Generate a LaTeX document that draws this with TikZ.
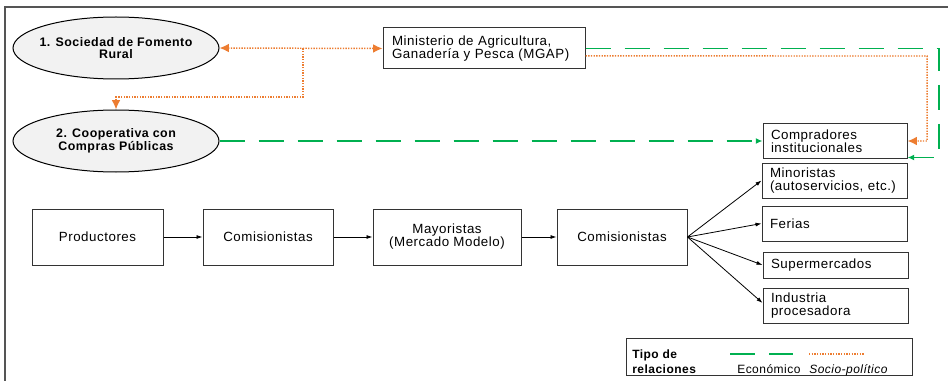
\documentclass[tikz,border=0pt]{standalone}
\usepackage{fontspec}
\setmainfont{Liberation Sans}[LetterSpace=4]
\usetikzlibrary{arrows.meta,shapes.geometric,calc}
\definecolor{ecogreen}{RGB}{0,176,80}
\definecolor{socorange}{RGB}{237,125,49}
\definecolor{efill}{RGB}{242,242,242}
\definecolor{framegray}{RGB}{85,85,85}
\begin{document}
\begin{tikzpicture}[x=0.75pt,y=-0.75pt,
  box/.style={draw=black!80, line width=0.75pt, fill=white, inner ysep=0pt,
    font=\fontsize{10}{9.8}\selectfont},
  lbox/.style={box, align=left, inner xsep=6pt},
  cbox/.style={box, align=center, inner xsep=0pt},
  ell/.style={ellipse, draw=black, line width=0.75pt, fill=efill,
    minimum width=154.5pt, minimum height=46.5pt, inner sep=0pt},
  elltext/.style={align=center, inner sep=0pt, font=\bfseries\fontsize{9.3}{9.4}\selectfont},
  ecoline/.style={draw=ecogreen, line width=1pt, dash pattern=on 18.75pt off 10.5pt},
  socline/.style={draw=socorange, line width=1.1pt, dash pattern=on 1pt off 1pt},
  ecotip/.style={-{Latex[length=5pt,width=4.5pt]}},
  soctip/.style={-{Latex[length=7pt,width=6.5pt]}},
  flow/.style={draw=black, line width=0.6pt, -{Latex[length=4.5pt,width=3pt]}},
  legtext/.style={inner sep=0pt, font=\fontsize{9}{11.25}\selectfont}
]
\useasboundingbox (0,0) rectangle (948,381);
\clip (0,0) rectangle (948,381);
\fill[white] (0,0) rectangle (948,381);

% outer frame (partially visible)
\draw[framegray, line width=1.5pt] (5,400) -- (5,7) -- (970,7);

% ellipses
\node[ell] (e1) at (116,48) {};
\node[elltext] (e1t) at (e1) {1. Sociedad de Fomento\\Rural};
\node[ell] (e2) at (116,141) {};
\node[elltext] (e2t) at (e2) {2. Cooperativa con\\Compras Públicas};

% upper boxes
\node[lbox, minimum width=151.5pt, minimum height=30.75pt, text width=138pt] (mgap) at (484,48.5)
  {Ministerio de Agricultura,\\Ganadería y Pesca (MGAP)};
\node[lbox, minimum width=108pt, minimum height=25.5pt, text width=96pt] (comp) at (835,141)
  {Compradores\\institucionales};

% right-hand boxes
\node[lbox, minimum width=108.75pt, minimum height=26.25pt, text width=96.75pt] (mino) at (834.5,180.5)
  {Minoristas\\(autoservicios, etc.)};
\node[lbox, minimum width=108.75pt, minimum height=26.25pt, text width=96.75pt] (fer) at (834.5,223.5)
  {Ferias};
\node[lbox, minimum width=108.75pt, minimum height=19.5pt, text width=96.75pt] (sup) at (835.5,265)
  {Supermercados};
\node[lbox, minimum width=108.75pt, minimum height=26.25pt, text width=96.75pt] (ind) at (835.5,305.5)
  {Industria\\procesadora};

% chain
\node[cbox, minimum width=98.25pt, minimum height=42pt] (prod) at (97.5,237) {Productores};
\node[cbox, minimum width=97.5pt, minimum height=42pt] (com1) at (268,237) {Comisionistas};
\node[cbox, minimum width=111pt, minimum height=42pt] (may) at (447,237) {Mayoristas\\(Mercado Modelo)};
\node[cbox, minimum width=97.5pt, minimum height=42pt] (com2) at (622,237) {Comisionistas};

\draw[flow] (prod) -- (com1);
\draw[flow] (com1) -- (may);
\draw[flow] (may) -- (com2);
\draw[flow] (com2.east) -- (mino.west);
\draw[flow] (com2.east) -- (fer.west);
\draw[flow] (com2.east) -- (sup.west);
\draw[flow] (com2.east) -- ([yshift=1.9pt]ind.west);

% socio-political (orange dotted)
\coordinate (j1) at (303,48.5);
\coordinate (j2) at (303,97);
\coordinate (o1) at (927,56);
\draw[socline, {Latex[length=7pt,width=6.5pt]}-{Latex[length=7pt,width=6.5pt]}] (e1.east) -- (mgap.west);
\draw[socline, soctip] (j1) -- (j2) -| (e2.north);
\draw[socline, soctip] ([yshift=-5.6pt]mgap.east) -- (o1) |- (comp.east);

% economic (green dashed)
\coordinate (g1) at (939,48.5);
\draw[ecoline, ecotip] (mgap.east) -- (g1) |- ([yshift=0.75pt]comp.south east);
\draw[ecoline, ecotip] (e2.east) -- (comp.west);

% legend
\node[draw=black!80, line width=0.75pt, fill=white, minimum width=214.5pt, minimum height=27.75pt, inner sep=0pt] (leg) at (769,356.5) {};
\node[legtext, font=\bfseries\fontsize{9}{11.25}\selectfont, align=left, anchor=north west] (legt) at (632,349.5) {Tipo de\\relaciones};
\node[legtext, anchor=base west] (lege) at (737,373) {Económico};
\node[legtext, anchor=base west, font=\itshape\fontsize{9}{11.25}\selectfont] (legs) at (809,373) {Socio-político};
\coordinate (lg1) at (730,354);
\coordinate (lg2) at (793,354);
\coordinate (ls1) at (809,354);
\coordinate (ls2) at (865,354);
\draw[ecoline] (lg1) -- (lg2);
\draw[socline] (ls1) -- (ls2);
\end{tikzpicture}
\end{document}
